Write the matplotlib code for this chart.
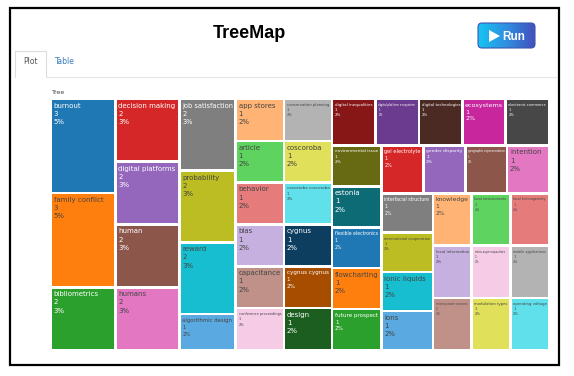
import matplotlib.pyplot as plt
import matplotlib.patches as mpatches
from matplotlib.colors import to_rgb, LinearSegmentedColormap
import numpy as np

# treemap data (sorted by value, then by name)
labels = ['burnout', 'family conflict', 'bibliometrics', 'decision making', 'digital platforms',
          'human', 'humans', 'job satisfaction', 'probability', 'reward',
          'algorithmic design', 'app stores', 'article', 'behavior', 'bias', 'capacitance',
          'conference proceedings', 'conservation planning', 'coscoroba', 'coscoroba coscoroba',
          'cygnus', 'cygnus cygnus', 'design', 'digital inequalities', 'digital platform ecosystem',
          'digital technologies', 'ecosystems', 'electronic commerce', 'environmental issue', 'estonia',
          'flexible electronics', 'flowcharting', 'future prospect', 'gel electrolyte', 'gender disparity',
          'geographic representation', 'intention', 'interfacial structure', 'international cooperation',
          'ionic liquids', 'ions', 'knowledge', 'local environments', 'local heterogeneity',
          'local information', 'micro power sources', 'micro-supercapacitors', 'mobile applications',
          'modulation types', 'operating voltage']
values = [3, 3, 2, 2, 2, 2, 2, 2, 2, 2] + [1] * 40
root_label = 'Tree'

palette = ['#1f77b4', '#ff7f0e', '#2ca02c', '#d62728', '#9467bd', '#8c564b', '#e377c2', '#7f7f7f',
           '#bcbd22', '#17becf',
           '#5aa9e0', '#ffb374', '#5fd35f', '#e57b7b', '#c5b0e0', '#c09189', '#f5cbe6', '#b3b3b3',
           '#e0e05a', '#5fe0ea',
           '#0d3d5f', '#a64d00', '#1b5e20', '#871616', '#6b3b8f', '#4c2a24', '#c7269d', '#474747',
           '#686a13', '#0d6b75']
colors = [palette[i % len(palette)] for i in range(len(labels))]


def squarify(vals, x0, y0, x1, y1, ratio=1.0):
    # d3-style squarified tiling
    rects = [None] * len(vals)
    total = float(sum(vals))
    n = len(vals)
    i0 = i1 = 0
    while i0 < n:
        dx, dy = x1 - x0, y1 - y0
        s = vals[i1]
        i1 += 1
        mn = mx = s
        alpha = max(dy / dx, dx / dy) / (total * ratio)
        beta = s * s * alpha
        best = max(mx / beta, beta / mn)
        while i1 < n:
            v = vals[i1]
            s2 = s + v
            mn2, mx2 = min(mn, v), max(mx, v)
            beta = s2 * s2 * alpha
            r = max(mx2 / beta, beta / mn2)
            if r > best:
                break
            s, mn, mx, best = s2, mn2, mx2, r
            i1 += 1
        if dx < dy:
            yb = y0 + dy * s / total
            xx = x0
            for i in range(i0, i1):
                w = dx * vals[i] / s
                rects[i] = (xx, y0, w, yb - y0)
                xx += w
            y0 = yb
        else:
            xb = x0 + dx * s / total
            yy = y0
            for i in range(i0, i1):
                h = dy * vals[i] / s
                rects[i] = (x0, yy, xb - x0, h)
                yy += h
            x0 = xb
        total -= s
        i0 = i1
    return rects


W, H = 574, 376
fig = plt.figure(figsize=(W / 100, H / 100), dpi=100)
fig.patch.set_facecolor('white')
ax = fig.add_axes([0, 0, 1, 1])
ax.set_xlim(0, W)
ax.set_ylim(H, 0)
ax.axis('off')

# page frame
ax.add_patch(mpatches.Rectangle((9.5, 7.5), 549, 357, fill=False, edgecolor='black', linewidth=1.6))

# title
ax.text(249, 34, 'TreeMap', ha='center', va='center', fontsize=13, fontweight='bold',
        family='Liberation Sans', color='black')

# run button
btn = mpatches.FancyBboxPatch((478, 23), 57, 25, boxstyle='round,pad=0,rounding_size=4',
                              facecolor='none', edgecolor='#3d56b0', linewidth=0.8, zorder=2)
ax.add_patch(btn)
grad = np.linspace(0, 1, 64).reshape(1, -1)
cmap = LinearSegmentedColormap.from_list('btn', ['#17c3f2', '#2f8fe0', '#4350bd'])
im = ax.imshow(grad, extent=(478, 535, 48, 23), cmap=cmap, aspect='auto', zorder=1)
im.set_clip_path(btn)
ax.add_patch(mpatches.Polygon([(489, 30), (489, 42), (500, 36)], closed=True, facecolor='white',
                              edgecolor='none', zorder=3))
ax.text(502, 36.5, 'Run', ha='left', va='center', fontsize=8.5, fontweight='bold', color='white',
        family='Liberation Sans', zorder=3)

# tabs
ax.plot([15, 15, 46, 46], [77, 51, 51, 77], color='#dddddd', linewidth=0.8)
ax.plot([46, 556], [77, 77], color='#e6e6e6', linewidth=0.8)
ax.text(30.5, 61, 'Plot', ha='center', va='center', fontsize=5.5, color='#555555')
ax.text(65, 61, 'Table', ha='center', va='center', fontsize=5.5, color='#337ab7')

# treemap
tx0, ty0, tw, th = 51, 99, 498, 251
tax = fig.add_axes([tx0 / W, 1 - (ty0 + th) / H, tw / W, th / H])
tax.set_xlim(0, tw)
tax.set_ylim(th, 0)
tax.axis('off')
ax.text(tx0 + 1, ty0 - 7, root_label, ha='left', va='center', fontsize=4.5, color='#444444')

rects = squarify(values, 0, 0, tw, th)
total_value = sum(values)
renderer = fig.canvas.get_renderer()
pad = 1.3
base_fs = 5.0
for lab, v, c, (x, y, w, h) in zip(labels, values, colors, rects):
    tax.add_patch(mpatches.Rectangle((x + pad, y + pad), w - 2 * pad, h - 2 * pad,
                                     facecolor=c, edgecolor='none'))
    r, g, b = to_rgb(c)
    bright = (r * 299 + g * 587 + b * 114) / 1000 * 255
    tcol = '#444444' if bright >= 128 else 'white'
    txt = f'{lab}\n{v}\n{round(100 * v / total_value)}%'
    t = tax.text(x + pad + 1.5, y + pad + 2.5, txt, ha='left', va='top', fontsize=base_fs,
                 color=tcol, linespacing=1.45)
    bb = t.get_window_extent(renderer)
    scale = min(1.0, (w - 2 * pad - 3) / bb.width, (h - 2 * pad - 3) / bb.height)
    t.set_fontsize(base_fs * scale)

fig.savefig('out.png', dpi=100)
